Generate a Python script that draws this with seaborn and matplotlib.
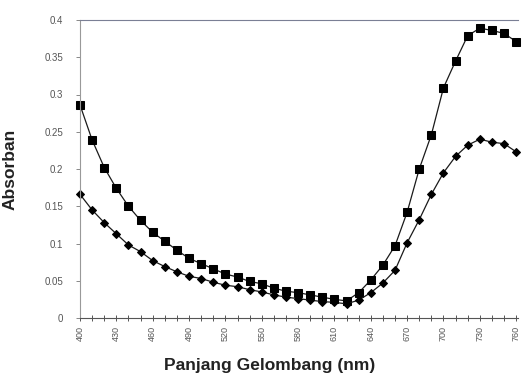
import matplotlib
matplotlib.use("Agg")
import matplotlib.pyplot as plt
import seaborn as sns
import pandas as pd
from matplotlib.ticker import MultipleLocator, FixedLocator

# Wavelengths (nm)
wavelength = [400, 410, 420, 430, 440, 450, 460, 470, 480, 490,
              500, 510, 520, 530, 540, 550, 560, 570, 580, 590,
              600, 610, 620, 630, 640, 650, 660, 670, 680, 690,
              700, 710, 720, 730, 740, 750, 760]

# Absorbance, square-marker series
absorb_square = [0.286, 0.239, 0.202, 0.174, 0.150, 0.131, 0.115, 0.103, 0.091, 0.080,
                 0.073, 0.066, 0.059, 0.055, 0.049, 0.046, 0.040, 0.036, 0.034, 0.031,
                 0.028, 0.025, 0.023, 0.034, 0.051, 0.071, 0.097, 0.142, 0.200, 0.246,
                 0.309, 0.345, 0.379, 0.389, 0.386, 0.382, 0.371]

# Absorbance, diamond-marker series
absorb_diamond = [0.166, 0.145, 0.128, 0.113, 0.098, 0.089, 0.077, 0.069, 0.062, 0.056,
                  0.053, 0.048, 0.044, 0.042, 0.038, 0.035, 0.031, 0.028, 0.026, 0.024,
                  0.022, 0.021, 0.019, 0.024, 0.034, 0.047, 0.064, 0.101, 0.132, 0.166,
                  0.195, 0.217, 0.232, 0.240, 0.236, 0.234, 0.223]

x_labels = [400, 430, 460, 490, 520, 550, 580, 610, 640, 670, 700, 730, 760]
y_ticks = [0, 0.05, 0.1, 0.15, 0.2, 0.25, 0.3, 0.35, 0.4]
y_tick_text = ["0", "0.05", "0.1", "0.15", "0.2", "0.25", "0.3", "0.35", "0.4"]

df_sq = pd.DataFrame({"Panjang Gelombang": wavelength, "Absorban": absorb_square})
df_di = pd.DataFrame({"Panjang Gelombang": wavelength, "Absorban": absorb_diamond})

sns.set_style("white")
plt.rcParams["font.family"] = ["Liberation Sans", "DejaVu Sans"]

fig = plt.figure(figsize=(5.22, 3.82), dpi=100)
ax = fig.add_axes([80 / 522, 1 - 318 / 382, 438 / 522, 298 / 382])

line_kw = dict(color="#1a1a1a", linewidth=0.9, markeredgecolor="black",
               markerfacecolor="black", clip_on=False, legend=False)
sns.lineplot(data=df_sq, x="Panjang Gelombang", y="Absorban", marker="s",
             markersize=5.3, ax=ax, **line_kw)
sns.lineplot(data=df_di, x="Panjang Gelombang", y="Absorban", marker="D",
             markersize=4.0, ax=ax, **line_kw)

ax.set_xlim(400, 761.5)
ax.set_ylim(0, 0.4)

ax.xaxis.set_major_locator(FixedLocator(x_labels))
ax.xaxis.set_minor_locator(MultipleLocator(10))
ax.set_xticklabels([str(v) for v in x_labels], rotation=90, fontsize=6.5, color="#555555")
ax.set_yticks(y_ticks)
ax.set_yticklabels(y_tick_text, fontsize=7, color="#555555")

ax.tick_params(axis="x", which="both", direction="inout", length=4, width=0.7,
               color="#555555", pad=4, bottom=True)
ax.tick_params(axis="y", which="major", direction="out", length=3, width=0.7,
               color="#888888", pad=9, left=True)

for side in ("left", "bottom", "top"):
    ax.spines[side].set_visible(True)
    ax.spines[side].set_linewidth(0.8)
ax.spines["left"].set_color("#999999")
ax.spines["bottom"].set_color("#555555")
ax.spines["top"].set_color("#7a7f95")
ax.spines["right"].set_visible(False)

ax.set_xlabel("Panjang Gelombang (nm)", fontsize=12.5, fontweight="bold", color="#222222")
ax.xaxis.set_label_coords(190 / 438, -40 / 298)
ax.set_ylabel("Absorban", fontsize=12.5, fontweight="bold", color="#222222")
ax.yaxis.set_label_coords(-62 / 438, 0.5)

fig.savefig("out.png", dpi=100)
